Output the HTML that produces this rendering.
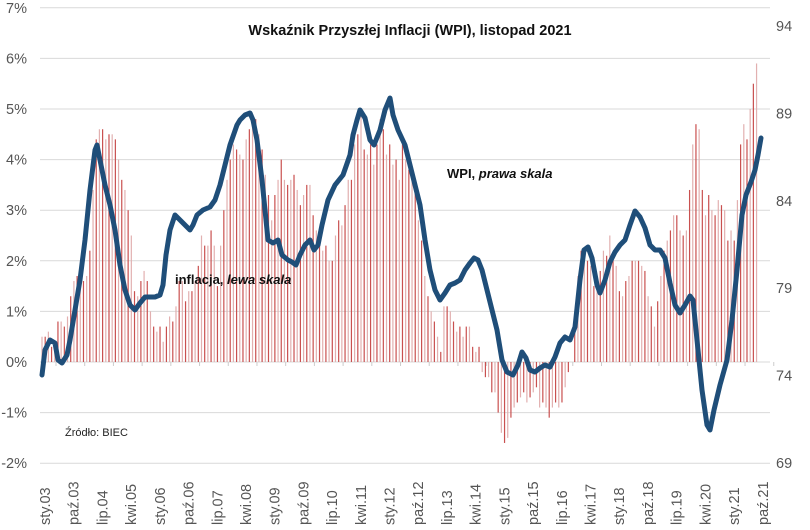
<!DOCTYPE html>
<html><head><meta charset="utf-8"><style>
body{margin:0;background:#fff;}
svg{display:block;font-family:"Liberation Sans",sans-serif;}
</style></head><body>
<svg id="c" width="810" height="530" viewBox="0 0 810 530" xmlns="http://www.w3.org/2000/svg">
<rect width="810" height="530" fill="#fff"/>
<g id="grid"></g>
<g id="bars"></g>
<g id="ticks"></g>
<polyline id="wpi" fill="none" stroke="#1f4e79" stroke-width="5" stroke-linejoin="round" stroke-linecap="round"/>
<text x="410" y="35" text-anchor="middle" font-size="14.5" font-weight="bold" fill="#111">Wskaźnik Przyszłej Inflacji (WPI), listopad 2021</text>
<text x="175" y="284" font-size="13" font-weight="bold" fill="#111">inflacja, <tspan font-style="italic">lewa skala</tspan></text>
<text x="447" y="178" font-size="13" font-weight="bold" fill="#111">WPI, <tspan font-style="italic">prawa skala</tspan></text>
<text x="65" y="436" font-size="11" fill="#222">Źródło: BIEC</text>
<g id="labels" font-size="14.5" fill="#555"></g>
</svg>
<script>
var NS="http://www.w3.org/2000/svg";
function el(p,t,a,txt){var e=document.createElementNS(NS,t);for(var k in a)e.setAttribute(k,a[k]);if(txt!==undefined)e.textContent=txt;p.appendChild(e);return e;}
var g=document.getElementById('grid'),L=document.getElementById('labels'),B=document.getElementById('bars'),T=document.getElementById('ticks');
function yL(v){return 362-v*50.6;}
for(var v=-2;v<=7;v++){var y=yL(v);el(g,'line',{x1:40,x2:770,y1:y,y2:y,stroke:'#d9d9d9','stroke-width':1});
el(L,'text',{x:27,y:y+5,'text-anchor':'end'},v+'%');}
var rv=[94,89,84,79,74,69];
for(var i=0;i<6;i++){el(L,'text',{x:776,y:31+i*87.4},String(rv[i]));}
var cpi=[0.5,0.5,0.6,0.3,0.4,0.8,0.8,0.7,0.9,1.3,1.6,1.7,
1.6,1.6,1.7,2.2,3.4,4.4,4.6,4.6,4.4,4.5,4.5,4.4,
4.0,3.6,3.4,3.0,2.5,1.4,1.3,1.6,1.8,1.6,1.0,0.7,
0.6,0.7,0.4,0.7,0.9,0.8,1.1,1.6,1.6,1.2,1.4,1.4,
1.6,1.9,2.5,2.3,2.3,2.6,2.3,1.5,2.3,3.0,3.6,4.0,
4.3,4.2,4.1,4.0,4.4,4.6,4.8,4.8,4.5,4.2,3.7,3.3,
2.8,3.3,3.6,4.0,3.6,3.5,3.6,3.7,3.4,3.1,3.3,3.5,
3.5,2.9,2.6,2.4,2.2,2.3,2.0,2.0,2.5,2.8,2.7,3.1,
3.6,3.6,4.3,4.5,5.0,4.2,4.1,4.3,3.9,4.3,4.8,4.6,
4.1,4.3,3.9,4.0,3.6,4.3,4.0,3.8,3.8,3.4,2.8,2.4,
1.7,1.3,1.0,0.8,0.5,0.2,1.1,1.1,1.0,0.8,0.6,0.7,
0.5,0.7,0.7,0.3,0.2,0.3,-0.2,-0.3,-0.3,-0.6,-0.6,-1.0,
-1.4,-1.6,-1.5,-1.1,-0.9,-0.8,-0.7,-0.6,-0.8,-0.7,-0.6,-0.5,
-0.9,-0.8,-0.9,-1.1,-0.9,-0.8,-0.9,-0.8,-0.5,-0.2,0,0.8,
1.7,2.2,2.0,2.0,1.9,1.5,1.7,1.8,2.2,2.1,2.5,2.1,
1.9,1.4,1.3,1.6,1.7,2.0,2.0,2.0,1.9,1.8,1.3,1.1,
0.7,1.2,1.7,2.2,2.4,2.6,2.9,2.9,2.6,2.5,2.6,3.4,
4.3,4.7,4.6,3.4,2.9,3.3,3.0,2.9,3.2,3.1,3.0,2.4,
2.6,2.4,3.2,4.3,4.7,4.4,5.0,5.5,5.9];
function xm(i){return 42+i*3.19;}
for(var i=0;i<cpi.length;i++){var x=xm(i),y=yL(cpi[i]);
el(B,'rect',{x:x-0.6,y:Math.min(y,362),width:1.2,height:Math.abs(362-y),fill:(i%2?'#c9504f':'#e2b0b0')});}
var lab=['sty','kwi','lip','paź'];
for(var k=0;k*9<=225;k++){var m=k*9;var yr=3+Math.floor(m/12);var mo=m%12;
var name=lab[mo/3]+'.'+(yr<10?'0':'')+yr;var x=xm(m)+8;
el(L,'text',{transform:'translate('+x+',525) rotate(-90)'},name);
el(T,'line',{x1:xm(m)+14,x2:xm(m)+14,y1:362,y2:366,stroke:'#ccc'});}
var pts=[[42,375],[45,350],[50,340],[55,343],[58,360],[62,363],[67,355],[70,340],[75,310],[80,280],[85,240],[90,190],[95,150],[97,145],[100,160],[105,185],[110,205],[115,230],[120,265],[125,290],[130,305],[135,310],[140,303],[145,297],[150,297],[155,297],[160,295],[163,285],[166,255],[170,230],[175,215],[180,220],[185,225],[190,230],[193,225],[197,215],[203,210],[210,207],[215,200],[220,185],[225,165],[230,145],[237,125],[240,120],[245,115],[250,113],[253,120],[257,140],[262,180],[265,210],[268,240],[273,243],[278,240],[282,255],[288,260],[292,262],[296,265],[300,255],[305,245],[310,240],[314,250],[318,245],[322,225],[328,200],[335,185],[343,175],[350,155],[353,135],[357,120],[360,110],[365,118],[370,140],[374,145],[380,130],[385,110],[390,98],[393,115],[398,130],[405,145],[410,165],[415,185],[420,205],[425,240],[430,270],[435,290],[440,300],[445,293],[450,285],[455,283],[460,280],[465,270],[470,263],[474,258],[478,260],[482,270],[487,290],[492,310],[497,330],[502,360],[507,372],[513,375],[518,365],[522,352],[526,358],[530,370],[535,372],[540,368],[545,365],[550,367],[555,357],[560,343],[565,337],[570,340],[575,327],[580,280],[584,250],[588,247],[592,258],[597,285],[600,293],[605,280],[610,262],[615,252],[620,245],[625,240],[630,225],[635,211],[640,217],[645,228],[650,245],[655,250],[660,250],[665,258],[670,283],[675,305],[680,313],[685,305],[690,296],[693,300],[697,340],[702,390],[707,425],[710,430],[714,410],[720,385],[727,360],[732,320],[737,270],[742,215],[746,195],[751,182],[755,170],[758,155],[761,138]];
document.getElementById('wpi').setAttribute('points',pts.map(function(p){return p.join(',');}).join(' '));
</script>
</body></html>
